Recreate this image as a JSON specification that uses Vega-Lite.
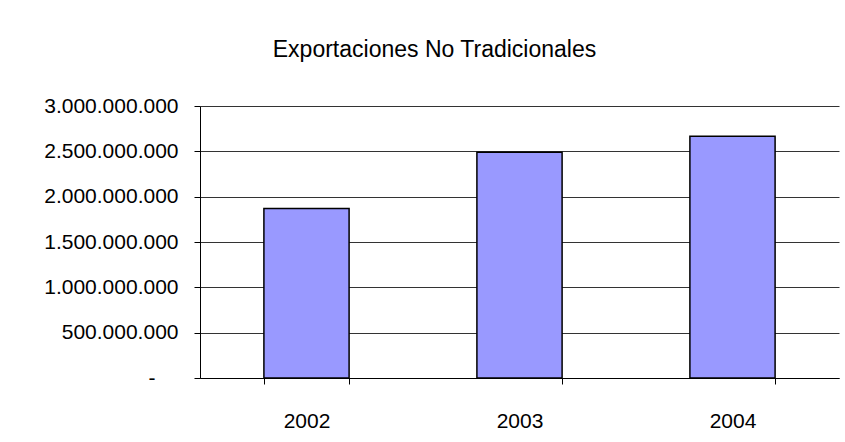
{
  "$schema": "https://vega.github.io/schema/vega-lite/v6.json",
  "autosize": "none",
  "padding": {"left": 200, "top": 106, "right": 6, "bottom": 63},
  "width": 639,
  "height": 272,
  "background": "white",
  "config": {
    "locale": {"number": {"decimal": ",", "thousands": ".", "grouping": [3], "currency": ["$", ""]}},
    "view": {"stroke": null},
    "font": "Liberation Sans"
  },
  "title": {
    "text": "Exportaciones No Tradicionales",
    "fontSize": 23,
    "fontWeight": "normal",
    "font": "Liberation Sans",
    "color": "black",
    "frame": "group",
    "anchor": "middle",
    "dx": -85,
    "baseline": "alphabetic",
    "offset": 15
  },
  "data": {
    "values": [
      {"anio": "2002", "valor": 1869000000},
      {"anio": "2003", "valor": 2489000000},
      {"anio": "2004", "valor": 2665000000}
    ]
  },
  "mark": {"type": "bar", "color": "#9999FF", "stroke": "black", "strokeWidth": 1.5},
  "encoding": {
    "x": {
      "field": "anio",
      "type": "nominal",
      "scale": {"paddingInner": 0.6, "paddingOuter": 0.3},
      "axis": {
        "title": null,
        "labelAngle": 0,
        "labelFontSize": 21,
        "labelColor": "black",
        "labelPadding": 26,
        "tickBand": "extent",
        "tickSize": 6,
        "tickColor": "black",
        "domainColor": "black",
        "grid": false
      }
    },
    "y": {
      "field": "valor",
      "type": "quantitative",
      "scale": {"domain": [0, 3000000000], "nice": false},
      "axis": {
        "title": null,
        "values": [0, 500000000, 1000000000, 1500000000, 2000000000, 2500000000, 3000000000],
        "format": ",d",
        "labelExpr": "datum.value === 0 ? '-' : datum.label",
        "labelFontSize": 21,
        "labelColor": "black",
        "labelPadding": {"condition": {"test": "datum.value === 0", "value": 39}, "value": 16},
        "tickSize": 6,
        "tickColor": "black",
        "domainColor": "black",
        "grid": true,
        "gridColor": "#333333",
        "gridWidth": 1
      }
    }
  }
}
